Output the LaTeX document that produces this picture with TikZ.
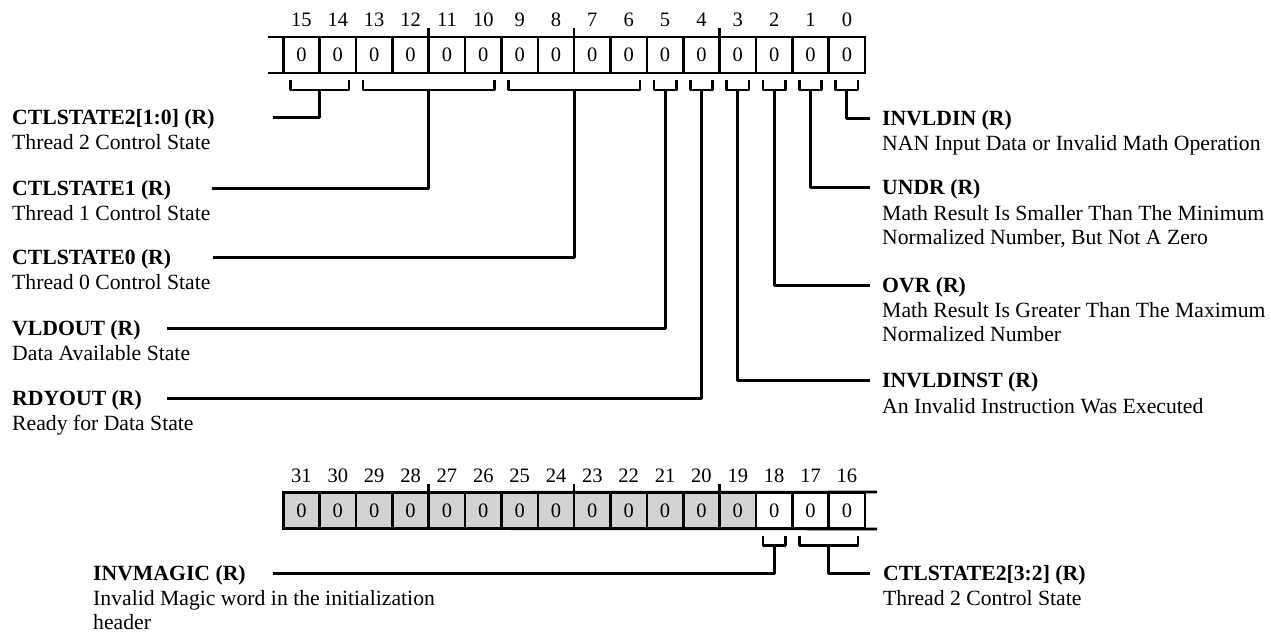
\documentclass[tikz,border=0pt]{standalone}
\usepackage{fontspec}
\setmainfont{Liberation Serif}
\usetikzlibrary{positioning,calc}

\begin{document}
\begin{tikzpicture}[
  x=1pt, y=-1pt,
  font=\fontsize{21.7}{24}\selectfont,
  cell/.style={draw, line width=2.6pt, outer sep=0pt, inner sep=0pt,
    minimum width=36.36pt, minimum height=36pt, font=\fontsize{20.5}{24}\selectfont},
  bitnum/.style={inner sep=0pt, font=\fontsize{20.5}{24}\selectfont},
  rail/.style={line width=2.6pt},
  brk/.style={line width=2.6pt, line join=round},
  lead/.style={line width=3pt, line join=round},
  ttl/.style={anchor=base west, inner sep=0pt, font=\fontsize{21.7}{24}\selectfont\bfseries},
  desc/.style={anchor=base west, inner sep=0pt, align=left}
]
\useasboundingbox (0,0) rectangle (1271,635);

% Register, bits 15..0
\foreach \b in {15,...,0}
  \node[cell] (c\b) at ({283.3+(15-\b+0.5)*36.36}, 55) {0};
\coordinate (tl) at (268,37);
\coordinate (bl) at (268,73);
\draw[rail] (tl) -- (c0.north east);
\draw[rail] (bl) -- (c0.south east);
\foreach \b in {11,7,3}
  \draw[rail] (c\b.north west) -- ++(0,-9);
\foreach \b in {15,...,0}
  \node[bitnum] (n\b) at ([yshift=35pt]c\b.center) {\b};

% Register, bits 31..16
\foreach \b in {31,...,16} {
  \ifnum\b>18 \def\fc{gray!35}\else\def\fc{white}\fi
  \node[cell, fill=\fc] (c\b) at ({283.3+(31-\b+0.5)*36.36}, 510.5) {0};
}
\coordinate (tr) at (877,492);
\coordinate (br) at (877,529);
\draw[rail] (c31.north west) -- (tr);
\draw[rail] (c31.south west) -- (br);
\foreach \b in {27,23,19}
  \draw[rail] (c\b.north west) -- ++(0,-9);
\foreach \b in {31,...,16}
  \node[bitnum] (n\b) at ([yshift=35pt]c\b.center) {\b};

% Field brackets
\foreach \hi/\lo in {15/14,13/10,9/6,5/5,4/4,3/3,2/2,1/1,0/0,18/18,17/16} {
  \draw[brk] ([xshift=7pt,yshift=-7pt]c\hi.south west) -- ++(0,10)
    -| ([xshift=-7pt,yshift=-7pt]c\lo.south east);
  \coordinate (s\hi) at ($(c\hi.south west)!0.5!(c\lo.south east)+(0,17)$);
}

% Left labels
\node[ttl] (ctl2lo) at (12,124) {CTLSTATE2[1:0] (R)};
\node[desc] (ctl2lod) at ([yshift=-25pt]ctl2lo.base west) {Thread 2 Control State};
\node[ttl] (ctl1) at (12,195) {CTLSTATE1 (R)};
\node[desc] (ctl1d) at ([yshift=-25pt]ctl1.base west) {Thread 1 Control State};
\node[ttl] (ctl0) at (12,264) {CTLSTATE0 (R)};
\node[desc] (ctl0d) at ([yshift=-25pt]ctl0.base west) {Thread 0 Control State};
\node[ttl] (vld) at (12,335) {VLDOUT (R)};
\node[desc] (vldd) at ([yshift=-25pt]vld.base west) {Data Available State};
\node[ttl] (rdy) at (12,405) {RDYOUT (R)};
\node[desc] (rdyd) at ([yshift=-25pt]rdy.base west) {Ready for Data State};
\node[ttl] (magic) at (93,580) {INVMAGIC (R)};
\node[desc] (magicd) at ([yshift=-49pt]magic.base west) {Invalid Magic word in the initialization\\header};

% Right labels
\node[ttl] (inin) at (882,125) {INVLDIN (R)};
\node[desc] (inind) at ([yshift=-25pt]inin.base west) {NAN Input Data or Invalid Math Operation};
\node[ttl] (undr) at (882,194) {UNDR (R)};
\node[desc] (undrd) at ([yshift=-50pt]undr.base west) {Math Result Is Smaller Than The Minimum\\Normalized Number, But Not A Zero};
\node[ttl] (ovr) at (882,292) {OVR (R)};
\node[desc] (ovrd) at ([yshift=-49pt]ovr.base west) {Math Result Is Greater Than The Maximum\\Normalized Number};
\node[ttl] (inst) at (882,387) {INVLDINST (R)};
\node[desc] (instd) at ([yshift=-26pt]inst.base west) {An Invalid Instruction Was Executed};
\node[ttl] (ctl2hi) at (883,580) {CTLSTATE2[3:2] (R)};
\node[desc] (ctl2hid) at ([yshift=-25pt]ctl2hi.base west) {Thread 2 Control State};

% Leader ends
\coordinate (e15) at (273,117);
\coordinate (e13) at (212,188);
\coordinate (e9) at (213,257);
\coordinate (e5) at (167,328);
\coordinate (e4) at (167,398);
\coordinate (e0) at (870,118);
\coordinate (e1) at (870,187);
\coordinate (e2) at (870,285);
\coordinate (e3) at (870,380);
\coordinate (e18) at (273,573);
\coordinate (e17) at (870,573);

% Leaders
\foreach \f in {15,13,9,5,4,0,1,2,3,18,17}
  \draw[lead] (s\f) |- (e\f);

\end{tikzpicture}
\end{document}
